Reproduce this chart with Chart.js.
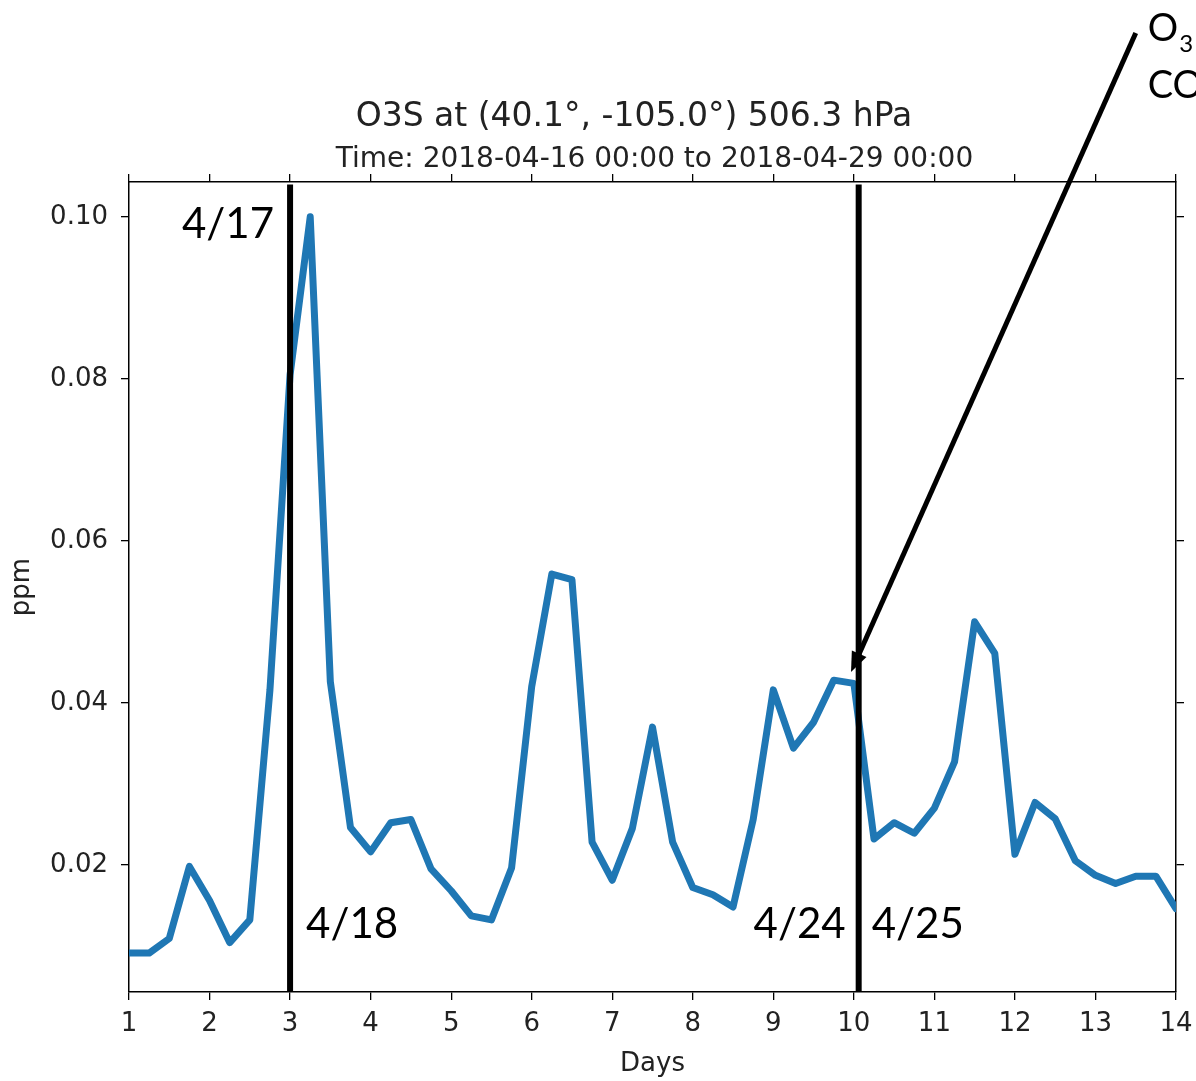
<!DOCTYPE html>
<html>
<head>
<meta charset="utf-8">
<script src="https://cdn.jsdelivr.net/npm/chart.js@4/dist/chart.umd.min.js"></script>
<style>
  html, body { margin: 0; padding: 0; background: #fff; }
  #wrap { width: 1196px; height: 1081px; position: relative; }
</style>
</head>
<body>
<div id="wrap"><canvas id="c"></canvas></div>
<script>
// ---- data ----
const days = [1.00, 1.25, 1.50, 1.75, 2.00, 2.25, 2.50, 2.75, 3.00, 3.25, 3.50, 3.75,
              4.00, 4.25, 4.50, 4.75, 5.00, 5.25, 5.50, 5.75, 6.00, 6.25, 6.50, 6.75,
              7.00, 7.25, 7.50, 7.75, 8.00, 8.25, 8.50, 8.75, 9.00, 9.25, 9.50, 9.75,
              10.00, 10.25, 10.50, 10.75, 11.00, 11.25, 11.50, 11.75, 12.00, 12.25, 12.50, 12.75,
              13.00, 13.25, 13.50, 13.75, 14.00];
const o3sPpm = [0.0091, 0.0091, 0.0109, 0.0198, 0.0156, 0.0104, 0.0132, 0.0416, 0.0805, 0.1000, 0.0426, 0.0246,
                0.0216, 0.0252, 0.0256, 0.0195, 0.0168, 0.0137, 0.0132, 0.0196, 0.0420, 0.0559, 0.0552, 0.0228,
                0.0181, 0.0245, 0.0370, 0.0228, 0.0172, 0.0163, 0.0148, 0.0256, 0.0416, 0.0344, 0.0376, 0.0428,
                0.0424, 0.0232, 0.0252, 0.0239, 0.0270, 0.0327, 0.0500, 0.0461, 0.0213, 0.0277, 0.0257, 0.0205,
                0.0187, 0.0177, 0.0186, 0.0186, 0.0146];
const xTicks = [1, 2, 3, 4, 5, 6, 7, 8, 9, 10, 11, 12, 13, 14];
const yTicks = [0.02, 0.04, 0.06, 0.08, 0.10];
const markerDays = [3.0, 10.06];
const markerLabels = [["4/17", "4/18"], ["4/24", "4/25"]];
const titleText = "O3S at (40.1°, -105.0°) 506.3 hPa";
const subtitleText = "Time: 2018-04-16 00:00 to 2018-04-29 00:00";
const xMin = 1, xMax = 14, yMin = 0.0043, yMax = 0.1043;
const arrowTail = {x: 13.50, y: 0.1227};
const arrowTip = {x: 9.965, y: 0.0438};

const series = days.map((d, i) => ({x: d, y: o3sPpm[i]}));
const markerSets = markerDays.map(d => ({
  data: [{x: d, y: 0.1040}, {x: d, y: yMin}],
  borderColor: '#000', borderWidth: 6, pointRadius: 0, tension: 0, order: 0
}));

const tickFont = {family: 'DejaVu Sans', size: 26};
const annFont = '42px Lato';

const setTicks = vals => scale => { scale.ticks = vals.map(v => ({value: v})); };
const fitH = h => s => { s.height = h; s.paddingLeft = 0; s.paddingRight = 0; };
const fitW = w => s => { s.width = w; s.paddingTop = 0; s.paddingBottom = 0; };

const overlay = {
  id: 'overlay',
  afterDraw(chart) {
    const ctx = chart.ctx;
    const xs = chart.scales.x, ys = chart.scales.y;
    ctx.save();
    // titles
    ctx.fillStyle = '#222';
    ctx.textBaseline = 'alphabetic';
    ctx.textAlign = 'center';
    ctx.font = '33px "DejaVu Sans"';
    ctx.fillText(titleText, 634, 126);
    ctx.font = '28px "DejaVu Sans"';
    ctx.fillText(subtitleText, (chart.chartArea.left + chart.chartArea.right) / 2 + 2, 167);
    // marker labels
    ctx.font = annFont;
    ctx.fillStyle = '#000';
    const px0 = xs.getPixelForValue(markerDays[0]);
    const px1 = xs.getPixelForValue(markerDays[1]);
    const yTop = ys.getPixelForValue(0.0974);
    const yBot = ys.getPixelForValue(0.0110);
    ctx.textAlign = 'right';
    ctx.fillText(markerLabels[0][0], px0 - 16, yTop);
    ctx.fillText(markerLabels[1][0], px1 - 13, yBot);
    ctx.textAlign = 'left';
    ctx.fillText(markerLabels[0][1], px0 + 16, yBot);
    ctx.fillText(markerLabels[1][1], px1 + 13, yBot);
    // arrow
    const tx = xs.getPixelForValue(arrowTail.x), ty = ys.getPixelForValue(arrowTail.y);
    const hx = xs.getPixelForValue(arrowTip.x), hy = ys.getPixelForValue(arrowTip.y);
    const ang = Math.atan2(hy - ty, hx - tx);
    const headLen = 20, headW = 8;
    const bx = hx - headLen * Math.cos(ang), by = hy - headLen * Math.sin(ang);
    ctx.strokeStyle = '#000';
    ctx.lineWidth = 5;
    ctx.beginPath();
    ctx.moveTo(tx, ty);
    ctx.lineTo(bx + 4 * Math.cos(ang), by + 4 * Math.sin(ang));
    ctx.stroke();
    ctx.beginPath();
    ctx.moveTo(hx, hy);
    ctx.lineTo(bx + headW * Math.sin(ang), by - headW * Math.cos(ang));
    ctx.lineTo(bx - headW * Math.sin(ang), by + headW * Math.cos(ang));
    ctx.closePath();
    ctx.fill();
    // O3 / CO text (cut at right edge)
    ctx.textAlign = 'left';
    ctx.font = '38px Lato';
    ctx.fillText('O', tx + 12, ty + 8);
    const ow = ctx.measureText('O').width;
    ctx.font = '24px Lato';
    ctx.fillText('3', tx + 12 + ow + 1, ty + 19);
    ctx.font = '38px Lato';
    ctx.fillText('CO', tx + 12, ty + 65);
    ctx.restore();
  }
};

new Chart(document.getElementById('c'), {
  type: 'line',
  data: {
    datasets: [
      ...markerSets,
      {data: series, borderColor: '#1f77b4', borderWidth: 7, pointRadius: 0, tension: 0,
       borderJoinStyle: 'round', borderCapStyle: 'round', order: 1}
    ]
  },
  options: {
    responsive: true,
    maintainAspectRatio: false,
    animation: false,
    layout: {padding: {top: 174, left: 0, right: 0, bottom: 0}},
    plugins: {
      legend: {display: false},
      tooltip: {enabled: false},
      title: {display: false},
      subtitle: {display: false}
    },
    scales: {
      x: {
        type: 'linear', position: 'bottom', min: xMin, max: xMax,
        afterBuildTicks: setTicks(xTicks),
        afterFit: fitH(89),
        grid: {drawOnChartArea: false, drawTicks: true, tickLength: 8, color: '#000', lineWidth: 1.3},
        border: {display: true, color: '#000', width: 1.5},
        ticks: {font: tickFont, color: '#222', padding: 9, maxRotation: 0, autoSkip: false,
                callback: v => String(v)},
        title: {display: true, text: 'Days', font: tickFont, color: '#222', padding: {top: 0, bottom: 1}}
      },
      x2: {
        type: 'linear', position: 'top', min: xMin, max: xMax,
        afterBuildTicks: setTicks(xTicks),
        afterFit: fitH(8),
        grid: {drawOnChartArea: false, drawTicks: true, tickLength: 8, color: '#000', lineWidth: 1.3},
        border: {display: true, color: '#000', width: 1.5},
        ticks: {display: true, autoSkip: false, callback: () => ''}
      },
      y: {
        type: 'linear', position: 'left', min: yMin, max: yMax,
        afterBuildTicks: setTicks(yTicks),
        afterFit: fitW(129),
        grid: {drawOnChartArea: false, drawTicks: true, tickLength: 8, color: '#000', lineWidth: 1.3},
        border: {display: true, color: '#000', width: 1.5},
        ticks: {font: tickFont, color: '#222', padding: 13, autoSkip: false,
                callback: v => v.toFixed(2)},
        title: {display: true, text: 'ppm', font: tickFont, color: '#222', padding: {top: 7, bottom: 0}}
      },
      y2: {
        type: 'linear', position: 'right', min: yMin, max: yMax,
        afterBuildTicks: setTicks(yTicks),
        afterFit: fitW(20),
        grid: {drawOnChartArea: false, drawTicks: true, tickLength: 8, color: '#000', lineWidth: 1.3},
        border: {display: true, color: '#000', width: 1.5},
        ticks: {display: true, autoSkip: false, callback: () => ''}
      }
    }
  },
  plugins: [overlay]
});
</script>
</body>
</html>
